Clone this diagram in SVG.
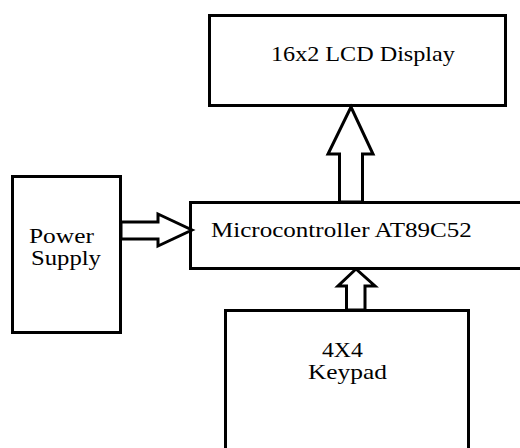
<svg xmlns="http://www.w3.org/2000/svg" width="520" height="448" viewBox="0 0 520 448">
<style>
.box{fill:#fff;stroke:#000;stroke-width:3}
.arr{fill:#fff;stroke:#000;stroke-width:3;stroke-linejoin:miter}
</style>
<rect width="520" height="448" fill="#fff"/>
<g id="lcd">
<rect class="box" x="209.5" y="15.5" width="296" height="90"/>
<text x="0" y="61" font-family="Liberation Serif" font-size="21" style="font-family:'Liberation Serif',serif" transform="translate(271 0) scale(1.151 1)">16x2 LCD Display</text>
</g>
<g id="mcu">
<rect class="box" x="190.5" y="202.5" width="335" height="66"/>
<text x="0" y="237.5" font-family="Liberation Serif" font-size="21" style="font-family:'Liberation Serif',serif" transform="translate(211 0) scale(1.193 1)">Microcontroller AT89C52</text>
</g>
<g id="power">
<rect class="box" x="12.5" y="176.5" width="108" height="156"/>
<text x="0" y="243" font-family="Liberation Serif" font-size="21" style="font-family:'Liberation Serif',serif" transform="translate(29 0) scale(1.21 1)">Power</text>
<text x="0" y="265.5" font-family="Liberation Serif" font-size="21" style="font-family:'Liberation Serif',serif" transform="translate(31 0) scale(1.176 1)">Supply</text>
</g>
<g id="keypad">
<rect class="box" x="225.5" y="310.5" width="243" height="150"/>
<text x="0" y="357" font-family="Liberation Serif" font-size="21" style="font-family:'Liberation Serif',serif" transform="translate(322 0) scale(1.13 1)">4X4</text>
<text x="0" y="379.5" font-family="Liberation Serif" font-size="21" style="font-family:'Liberation Serif',serif" transform="translate(308 0) scale(1.21 1)">Keypad</text>
</g>
<g id="connectors">
<polygon class="arr" points="339.5,202 339.5,154 328,154 351,107 373,154 362.5,154 362.5,202"/>
<polygon class="arr" points="121,222 158,222 158,214 192,230 158,246 158,239 121,239"/>
<polygon class="arr" points="346.5,310 346.5,286 338,286 356,269 375,286 365,286 365,310"/>
</g>
</svg>
